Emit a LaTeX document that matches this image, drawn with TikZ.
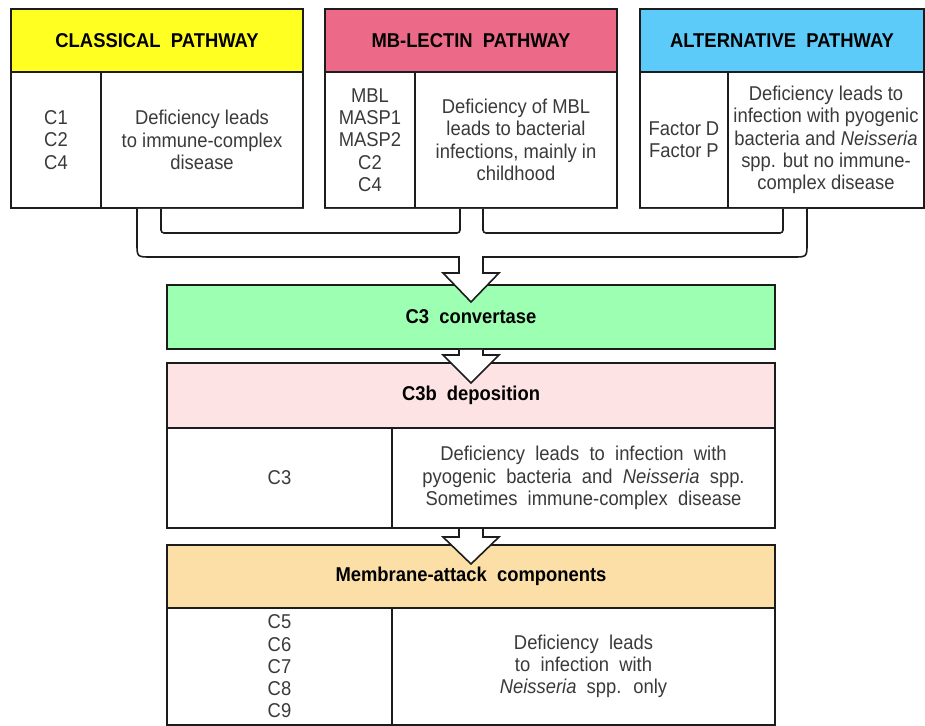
\documentclass[tikz,border=0pt]{standalone}
\usepackage{fontspec}
\setmainfont[FakeStretch=0.92]{Liberation Sans}
\newfontfamily\widefont[FakeStretch=0.92, WordSpace=2]{Liberation Sans}
\usetikzlibrary{calc}
\definecolor{Ink}{HTML}{1C1C1C}
\definecolor{TextGray}{HTML}{3A3A3A}
\definecolor{ClassicalYellow}{HTML}{FFFF22}
\definecolor{LectinPink}{HTML}{EC6A88}
\definecolor{AltBlue}{HTML}{5CCBFA}
\definecolor{ConvGreen}{HTML}{9CFFB2}
\definecolor{DepoPink}{HTML}{FDE3E3}
\definecolor{AttackTan}{HTML}{FBDFA6}
\tikzset{
pathhead/.style={draw=Ink, line width=1pt, inner sep=0pt, outer sep=0pt, minimum height=31.5pt, font=\fontsize{10}{11.15}\selectfont\widefont\bfseries, text=black},
pathcell/.style={draw=Ink, line width=1pt, fill=white, inner sep=0pt, outer sep=0pt, minimum height=68pt, align=center, font=\fontsize{10}{11.15}\selectfont, text=TextGray},
widecell/.style={pathcell, font=\fontsize{10}{11.15}\selectfont\widefont},
pipe/.style={draw=Ink, line width=0.8pt, fill=white},
pipeline/.style={draw=Ink, line width=0.8pt}
}
\begin{document}
\begin{tikzpicture}[x=0.5pt, y=-0.5pt]
  \useasboundingbox (0,0) rectangle (925,726);
  % three pathways
  \node[pathhead, fill=ClassicalYellow, minimum width=146pt] (clshead) at (157,40.5) {CLASSICAL PATHWAY};
  \node[pathcell, minimum width=45pt] (clsgene) at (56,140) {C1\\C2\\C4};
  \node[pathcell, minimum width=101pt] (clsdesc) at (202,140) {Deficiency leads\\to immune-complex\\disease};
  \node[pathhead, fill=LectinPink, minimum width=146pt] (mbhead) at (471,40.5) {MB-LECTIN PATHWAY};
  \node[pathcell, minimum width=45pt] (mbgene) at (370,140) {MBL\\MASP1\\MASP2\\C2\\C4};
  \node[pathcell, minimum width=101pt] (mbdesc) at (516,140) {Deficiency of MBL\\leads to bacterial\\infections, mainly in\\childhood};
  \node[pathhead, fill=AltBlue, minimum width=142pt] (althead) at (782,40.5) {ALTERNATIVE PATHWAY};
  \node[pathcell, minimum width=44pt] (altgene) at (684,140) {Factor D\\Factor P};
  \node[pathcell, minimum width=98pt] (altdesc) at (826,140) {Deficiency leads to\\infection with pyogenic\\bacteria and \textit{Neisseria}\\spp. but no immune-\\complex disease};
  % common steps
  \node[pathhead, fill=ConvGreen, minimum width=304pt, minimum height=32pt] (conv) at (471,317) {C3 convertase};
  \node[pathhead, fill=DepoPink, minimum width=304pt, minimum height=32.5pt] (depohead) at (471,395.5) {C3b deposition};
  \node[widecell, minimum width=112.5pt, minimum height=50pt] (depogene) at (279.5,478) {C3};
  \node[widecell, minimum width=191.5pt, minimum height=50pt] (depodesc) at (583.5,478) {Deficiency leads to infection with\\pyogenic bacteria and \textit{Neisseria} spp.\\Sometimes immune-complex disease};
  \node[pathhead, fill=AttackTan, minimum width=304pt] (machead) at (471,576.5) {Membrane-attack components};
  \node[widecell, minimum width=112.5pt, minimum height=58.5pt] (macgene) at (279.5,666.5) {C5\\C6\\C7\\C8\\C9};
  \node[widecell, minimum width=191.5pt, minimum height=58.5pt] (macdesc) at (583.5,666.5) {Deficiency leads\\to infection with\\\textit{Neisseria} spp. only};
  % merging pipe into C3 convertase
  \draw[pipe] ($(clsdesc.south west)+(36,1)$) -- ++(0,34) .. controls +(0,14) .. ++(14,14) -- ($(conv.north)+(-12,-28)$) -- ++(0,16) -- ++(-16,0) -- ($(conv.north)+(0,17)$) -- ($(conv.north)+(28,-12)$) -- ++(-16,0) -- ++(0,-16) -- ($(altdesc.south west)+(65,49)$) .. controls +(14,0) .. ++(14,-14) -- ($(altdesc.south west)+(79,1)$);
  \draw[pipeline, rounded corners=1.5pt] ($(clsdesc.south west)+(60,1)$) |- ($(mbdesc.south west)+(45,25)$) -- ($(mbdesc.south west)+(45,1)$);
  \draw[pipeline, rounded corners=1.5pt] ($(mbdesc.south west)+(68,1)$) |- ($(altdesc.south west)+(55,25)$) -- ($(altdesc.south west)+(55,1)$);
  % block arrows between steps
  \draw[pipe] ($(conv.south)+(-12,1)$) |- ($(depohead.north)+(-28,-8)$) -- ($(depohead.north)+(0,20)$) -- ($(depohead.north)+(28,-8)$) -| ($(conv.south)+(12,1)$);
  \draw[pipe] ($(machead.north |- depodesc.south)+(-12,1)$) |- ($(machead.north)+(-28,-8)$) -- ($(machead.north)+(0,19)$) -- ($(machead.north)+(28,-8)$) -| ($(machead.north |- depodesc.south)+(12,1)$);
\end{tikzpicture}
\end{document}
